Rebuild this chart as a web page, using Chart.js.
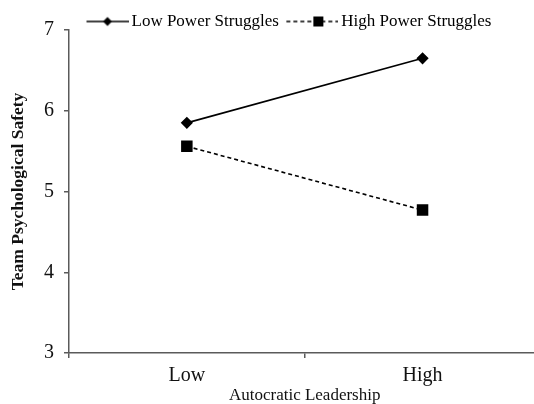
<!DOCTYPE html>
<html>
<head>
<meta charset="utf-8">
<script src="https://cdn.jsdelivr.net/npm/chart.js@4"></script>
<style>
    html, body { margin: 0; padding: 0; background: #fff; overflow: hidden; }
    #wrap { width: 549px; height: 404px; }
</style>
</head>
<body>
<div id="wrap"><canvas id="myChart" width="549" height="404"></canvas></div>
<script>
const categories = ['Low', 'High'];
const lowPower = [5.85, 6.65];
const highPower = [5.56, 4.77];
const seriesNames = ['Low Power Struggles', 'High Power Struggles'];
const yTicks = [3, 4, 5, 6, 7];

const axisColor = '#5a5a5a';
const serif = "'Liberation Serif', 'Times New Roman', serif";

// little line+marker pictures for the legend
function legendIcon(dashed) {
    const c = document.createElement('canvas');
    c.width = 63;
    c.height = 14;
    const g = c.getContext('2d');
    const cy = 7;
    g.strokeStyle = '#000';
    g.fillStyle = '#000';
    g.lineWidth = 1.6;
    if (dashed) {
        g.setLineDash([4, 3]);
        g.beginPath(); g.moveTo(11, cy); g.lineTo(63, cy); g.stroke();
        g.fillRect(38, cy - 5, 10, 10);
    } else {
        g.beginPath(); g.moveTo(21, cy); g.lineTo(63, cy); g.stroke();
        g.beginPath();
        g.moveTo(42, cy - 4.5); g.lineTo(46.5, cy); g.lineTo(42, cy + 4.5); g.lineTo(37.5, cy);
        g.closePath(); g.fill();
    }
    return c;
}

const icons = [legendIcon(false), legendIcon(true)];

// the legend keeps 10px of empty space under itself, drop it
const tightLegend = {
    id: 'tightLegend',
    beforeLayout(chart) {
        const lg = chart.legend;
        if (lg && !lg._tight) {
            const fit = lg.fit;
            lg.fit = function () {
                fit.call(this);
                this.height -= 10;
            };
            lg._tight = true;
        }
    }
};

const ctx = document.getElementById('myChart');
const myChart = new Chart(ctx, {
    type: 'line',
    data: {
        labels: categories,
        datasets: [{
            label: seriesNames[0],
            data: lowPower,
            borderColor: '#000',
            backgroundColor: '#000',
            borderWidth: 1.6,
            pointStyle: 'rectRot',
            pointRadius: 5,
            pointHoverRadius: 5
        }, {
            label: seriesNames[1],
            data: highPower,
            borderColor: '#000',
            backgroundColor: '#000',
            borderWidth: 1.6,
            borderDash: [4, 3],
            pointStyle: 'rect',
            pointRadius: 7,
            pointHoverRadius: 7
        }]
    },
    plugins: [tightLegend],
    options: {
        responsive: false,
        animation: false,
        layout: { padding: { top: 11, left: 7.5, right: 0, bottom: 0 } },
        plugins: {
            legend: {
                position: 'top',
                fullSize: false,
                align: 'start',
                labels: {
                    usePointStyle: true,
                    pointStyleWidth: 52,
                    padding: 2,
                    color: '#111',
                    font: { family: serif, size: 17 },
                    generateLabels: function (chart) {
                        return chart.data.datasets.map(function (ds, i) {
                            return {
                                text: ds.label,
                                pointStyle: icons[i],
                                fillStyle: '#000',
                                strokeStyle: '#000',
                                lineWidth: 0,
                                datasetIndex: i
                            };
                        });
                    }
                }
            },
            tooltip: { enabled: false }
        },
        scales: {
            x: {
                offset: true,
                grid: {
                    display: true,
                    offset: true,
                    drawOnChartArea: false,
                    drawTicks: true,
                    tickLength: 5,
                    color: axisColor,
                    lineWidth: 1.5
                },
                border: { display: true, color: axisColor, width: 1.5 },
                ticks: {
                    color: '#111',
                    padding: 8,
                    font: { family: serif, size: 20, lineHeight: 1 }
                },
                title: {
                    display: true,
                    text: 'Autocratic Leadership',
                    color: '#111',
                    padding: { top: -7, bottom: 0 },
                    font: { family: serif, size: 17, lineHeight: 1 }
                }
            },
            y: {
                min: yTicks[0],
                max: yTicks[yTicks.length - 1],
                afterBuildTicks: function (axis) {
                    axis.ticks = yTicks.map(function (v) { return { value: v }; });
                },
                grid: {
                    display: true,
                    drawOnChartArea: false,
                    tickLength: 5,
                    color: axisColor,
                    lineWidth: 1.5
                },
                border: { display: true, color: axisColor, width: 1.5 },
                ticks: {
                    color: '#111',
                    padding: 10,
                    font: { family: serif, size: 20 }
                },
                title: {
                    display: true,
                    text: 'Team Psychological Safety',
                    color: '#111',
                    padding: { top: 0, bottom: 5.5 },
                    font: { family: serif, size: 17.5, weight: 'bold' }
                }
            }
        }
    }
});
</script>
</body>
</html>
